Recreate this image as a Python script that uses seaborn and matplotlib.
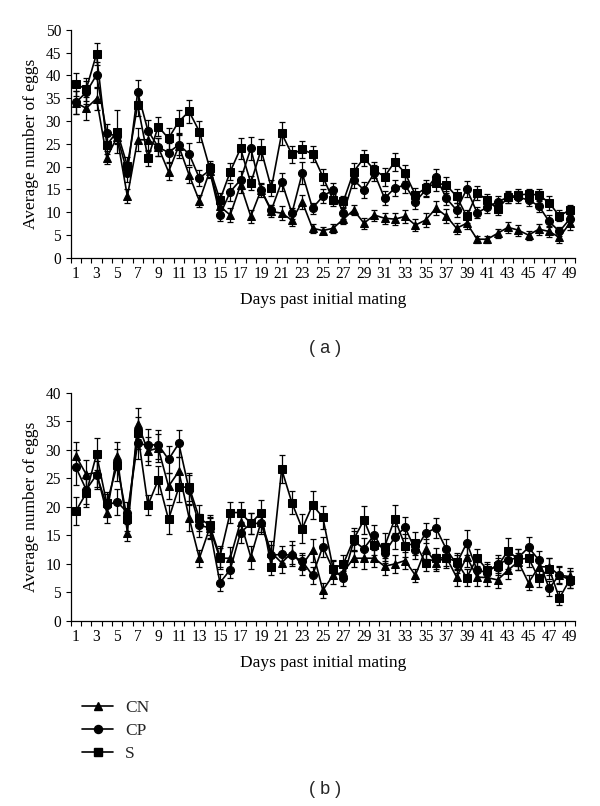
import matplotlib
matplotlib.use("Agg")
import matplotlib.pyplot as plt
from matplotlib.lines import Line2D
import pandas as pd
import seaborn as sns

# days past initial mating (categories)
days = list(range(1, 50))
groups = ["CN", "CP", "S"]

# panel (a)
cn_a = [34, 32.8, 34.9, 22.0, 26.5, 13.5, 25.9, 25.9, 24.3, 18.9, 24.5, 18.2, 12.5, 19.0, 11.3, 9.4, 16.0, 9.1, 14.9, 10.2,
        9.8, 8.3, 12.3, 6.5, 6.0, 6.5, 8.5, 10.5, 7.6, 9.4, 8.7, 8.5, 9.1, 7.2, 8.3, 10.9, 9.2, 6.5, 7.6, 4.1,
        4.1, 5.4, 6.7, 6.1, 5.0, 6.3, 5.8, 4.5, 7.6]
cp_a = [34.1, 36.3, 40.1, 27.3, 26.7, 18.7, 36.3, 27.9, 24.3, 23.1, 24.8, 22.8, 17.5, 19.2, 9.4, 14.5, 17.1, 24.0, 14.9, 10.5,
        16.7, 9.8, 18.6, 10.9, 13.5, 14.9, 9.8, 17.1, 14.9, 18.6, 13.1, 15.3, 16.0, 12.3, 14.9, 17.8, 13.1, 10.5, 15.1, 9.9,
        11.1, 12.3, 13.3, 13.3, 12.7, 11.4, 8.0, 5.8, 8.5]
s_a = [38.1, 37.0, 44.7, 24.8, 27.7, 20.2, 33.6, 21.9, 28.8, 26.2, 29.9, 32.1, 27.7, 19.7, 12.7, 18.9, 24.0, 16.4, 23.7, 15.3,
       27.3, 22.7, 23.8, 22.8, 17.8, 12.7, 12.4, 18.9, 21.9, 19.3, 17.8, 21.1, 18.6, 13.8, 15.3, 16.4, 16.0, 13.5, 9.1, 14.2,
       12.7, 10.7, 13.3, 13.8, 14.0, 13.8, 12.1, 9.2, 10.5]
err_cn_a = [2.5, 2.5, 2.5, 1.5, 1.5, 1.5, 2.5, 2.5, 2.0, 1.8, 2.5, 1.8, 1.3, 1.5, 1.5, 1.5, 1.8, 1.5, 1.2, 1.3,
            1.5, 1.3, 1.5, 1.0, 0.8, 1.0, 1.0, 1.2, 1.2, 1.2, 1.2, 1.3, 1.5, 1.3, 1.5, 1.5, 1.5, 1.2, 1.3, 0.8,
            0.8, 1.0, 1.2, 1.2, 1.0, 1.2, 1.3, 1.2, 1.5]
err_cp_a = [2.5, 2.5, 2.8, 2.0, 1.5, 2.0, 2.7, 2.3, 2.0, 2.0, 2.3, 2.5, 1.8, 1.5, 1.2, 2.0, 2.0, 2.5, 1.5, 1.2,
            2.0, 1.2, 2.5, 1.2, 1.5, 1.5, 1.2, 1.8, 1.8, 1.8, 1.5, 1.8, 1.8, 1.5, 1.5, 1.8, 1.5, 1.5, 1.8, 1.2,
            1.3, 1.3, 1.3, 1.3, 1.3, 1.3, 1.3, 1.0, 1.5]
err_s_a = [2.5, 2.5, 2.5, 2.0, 4.8, 2.0, 2.5, 1.8, 2.0, 2.3, 2.5, 2.5, 2.3, 1.5, 1.5, 1.8, 2.3, 1.5, 2.3, 1.8,
           2.5, 1.8, 1.8, 1.8, 1.8, 1.3, 1.2, 1.8, 1.8, 1.8, 2.0, 2.0, 1.8, 1.5, 1.8, 1.8, 1.8, 1.5, 1.5, 1.5,
           1.3, 1.3, 1.2, 1.2, 1.2, 1.3, 1.5, 1.2, 1.2]

# panel (b)
cn_b = [28.9, 25.7, 26.0, 19.0, 28.9, 15.5, 34.6, 29.8, 30.3, 23.6, 26.2, 18.1, 11.0, 16.3, 11.0, 11.0, 17.4, 11.2, 17.4, 12.0,
        10.2, 12.0, 9.8, 12.4, 5.4, 8.0, 8.6, 11.0, 11.0, 11.0, 9.6, 10.0, 10.6, 8.0, 12.6, 10.2, 11.2, 7.7, 11.2, 7.7,
        7.6, 7.2, 8.9, 10.4, 6.7, 9.5, 9.5, 8.0, 7.8]
cp_b = [26.9, 23.0, 25.6, 20.3, 20.9, 19.0, 31.1, 30.8, 30.9, 28.3, 31.1, 23.0, 16.8, 16.3, 6.7, 9.0, 15.5, 17.1, 17.1, 11.5,
        11.7, 11.5, 10.5, 8.0, 13.0, 9.0, 7.5, 14.0, 12.7, 15.1, 11.9, 14.7, 16.4, 12.4, 15.4, 16.3, 12.6, 10.0, 13.7, 8.9,
        8.5, 10.0, 10.7, 11.1, 12.9, 10.7, 5.7, 8.1, 7.2]
s_b = [19.3, 22.4, 29.2, 20.6, 27.3, 17.8, 33.0, 20.3, 24.7, 17.8, 23.4, 23.5, 18.0, 16.8, 11.3, 19.0, 19.0, 17.1, 19.0, 9.5,
       26.6, 20.7, 16.2, 20.3, 18.2, 9.2, 10.0, 14.3, 17.7, 13.3, 13.0, 17.9, 13.2, 13.6, 10.2, 11.0, 11.1, 10.4, 7.6, 11.1,
       8.9, 9.6, 12.3, 10.8, 11.0, 7.5, 9.2, 4.0, 7.2]
err_cn_b = [2.5, 2.5, 2.5, 1.8, 2.5, 1.5, 2.8, 2.5, 2.5, 2.3, 2.5, 2.3, 1.5, 1.8, 1.8, 2.0, 1.8, 2.0, 1.8, 2.0,
            1.8, 2.0, 1.8, 2.0, 1.3, 1.5, 1.5, 1.5, 1.8, 1.5, 1.5, 1.5, 1.5, 1.2, 1.8, 1.5, 1.5, 1.5, 1.8, 1.5,
            1.5, 1.5, 1.5, 1.5, 1.3, 1.5, 1.5, 1.5, 1.5]
err_cp_b = [3.0, 2.5, 2.5, 2.0, 2.3, 1.8, 2.8, 2.8, 2.5, 2.3, 2.3, 2.5, 2.0, 2.0, 1.5, 1.5, 1.8, 1.8, 1.8, 1.8,
            1.5, 1.8, 1.5, 1.5, 1.8, 1.5, 1.3, 1.8, 1.8, 1.8, 1.8, 2.0, 1.8, 1.5, 1.8, 1.8, 1.8, 1.5, 2.2, 1.5,
            1.5, 1.5, 1.5, 1.5, 1.8, 1.5, 1.3, 1.5, 1.5]
err_s_b = [2.5, 2.5, 2.8, 2.0, 2.8, 2.0, 2.8, 1.8, 2.5, 2.5, 2.5, 2.5, 2.3, 1.8, 1.8, 1.8, 1.8, 1.8, 2.2, 1.5,
           2.5, 2.0, 2.5, 2.5, 2.0, 1.5, 1.5, 2.0, 2.5, 1.8, 2.5, 2.5, 2.0, 2.0, 1.5, 1.8, 1.8, 1.5, 1.5, 1.5,
           1.5, 1.5, 2.2, 1.8, 1.5, 1.5, 1.8, 1.2, 1.5]

MARKERS = {"CN": "^", "CP": "o", "S": "s"}
SERIF = ["Liberation Serif", "DejaVu Serif"]

sns.set_theme(style="white")
plt.rcParams["font.family"] = SERIF


def draw(ax, vals, errs, ymax):
    df = pd.DataFrame({
        "day": days * 3,
        "eggs": vals[0] + vals[1] + vals[2],
        "group": [g for g in groups for _ in days],
    })
    for v, e in zip(vals, errs):
        ax.errorbar(days, v, yerr=e, fmt="none", ecolor="black", elinewidth=0.9,
                    capsize=2.2, capthick=0.9, zorder=2)
    sns.lineplot(data=df, x="day", y="eggs", hue="group", style="group",
                 markers=MARKERS, dashes=False, palette={g: "black" for g in groups},
                 markersize=5.8, markeredgecolor="black", linewidth=1.2,
                 legend=False, errorbar=None, ax=ax, zorder=3)
    ax.set_xlim(0.5, 49.5)
    ax.set_ylim(0, ymax)
    ax.set_xticks(range(1, 50, 2))
    ax.set_xticks([d + 0.5 for d in range(0, 50)], minor=True)
    ax.set_yticks(range(0, ymax + 1, 5))
    ax.tick_params(axis="x", which="major", length=0, labelsize=11.2, pad=6, colors="black")
    ax.tick_params(axis="x", which="minor", length=3.5, width=0.8, direction="out", color="black", bottom=True)
    ax.tick_params(axis="y", length=3.5, width=0.8, direction="out", labelsize=11.2, colors="black", left=True)
    for side in ["top", "right"]:
        ax.spines[side].set_visible(False)
    for side in ["left", "bottom"]:
        ax.spines[side].set_color("black")
        ax.spines[side].set_linewidth(0.9)
    ax.set_ylabel("Average number of eggs", fontsize=12.5, color="black", labelpad=5)
    ax.set_xlabel("Days past initial mating", fontsize=12.5, color="black", labelpad=7)


fig = plt.figure(figsize=(6, 8.06), dpi=100)
ax_a = fig.add_axes([0.118, 0.680, 0.840, 0.283])
ax_b = fig.add_axes([0.118, 0.2295, 0.840, 0.2833])

draw(ax_a, [cn_a, cp_a, s_a], [err_cn_a, err_cp_a, err_s_a], 50)
draw(ax_b, [cn_b, cp_b, s_b], [err_cn_b, err_cp_b, err_s_b], 40)

fig.text(0.542, 1 - 348 / 806, "( a )", ha="center", va="center", fontsize=13,
         family=["Liberation Sans", "DejaVu Sans"])
fig.text(0.542, 1 - 790 / 806, "( b )", ha="center", va="center", fontsize=13,
         family=["Liberation Sans", "DejaVu Sans"])

handles = [Line2D([], [], color="black", lw=1.2, marker=MARKERS[g], markersize=5.8) for g in groups]
fig.legend(handles, groups, loc="upper left", bbox_to_anchor=(0.122, 1 - 691 / 806), frameon=False,
           borderpad=0, handlelength=1.8, handletextpad=0.7, labelspacing=0.4, fontsize=12.5)

fig.savefig("out.png", dpi=100, facecolor="white")
